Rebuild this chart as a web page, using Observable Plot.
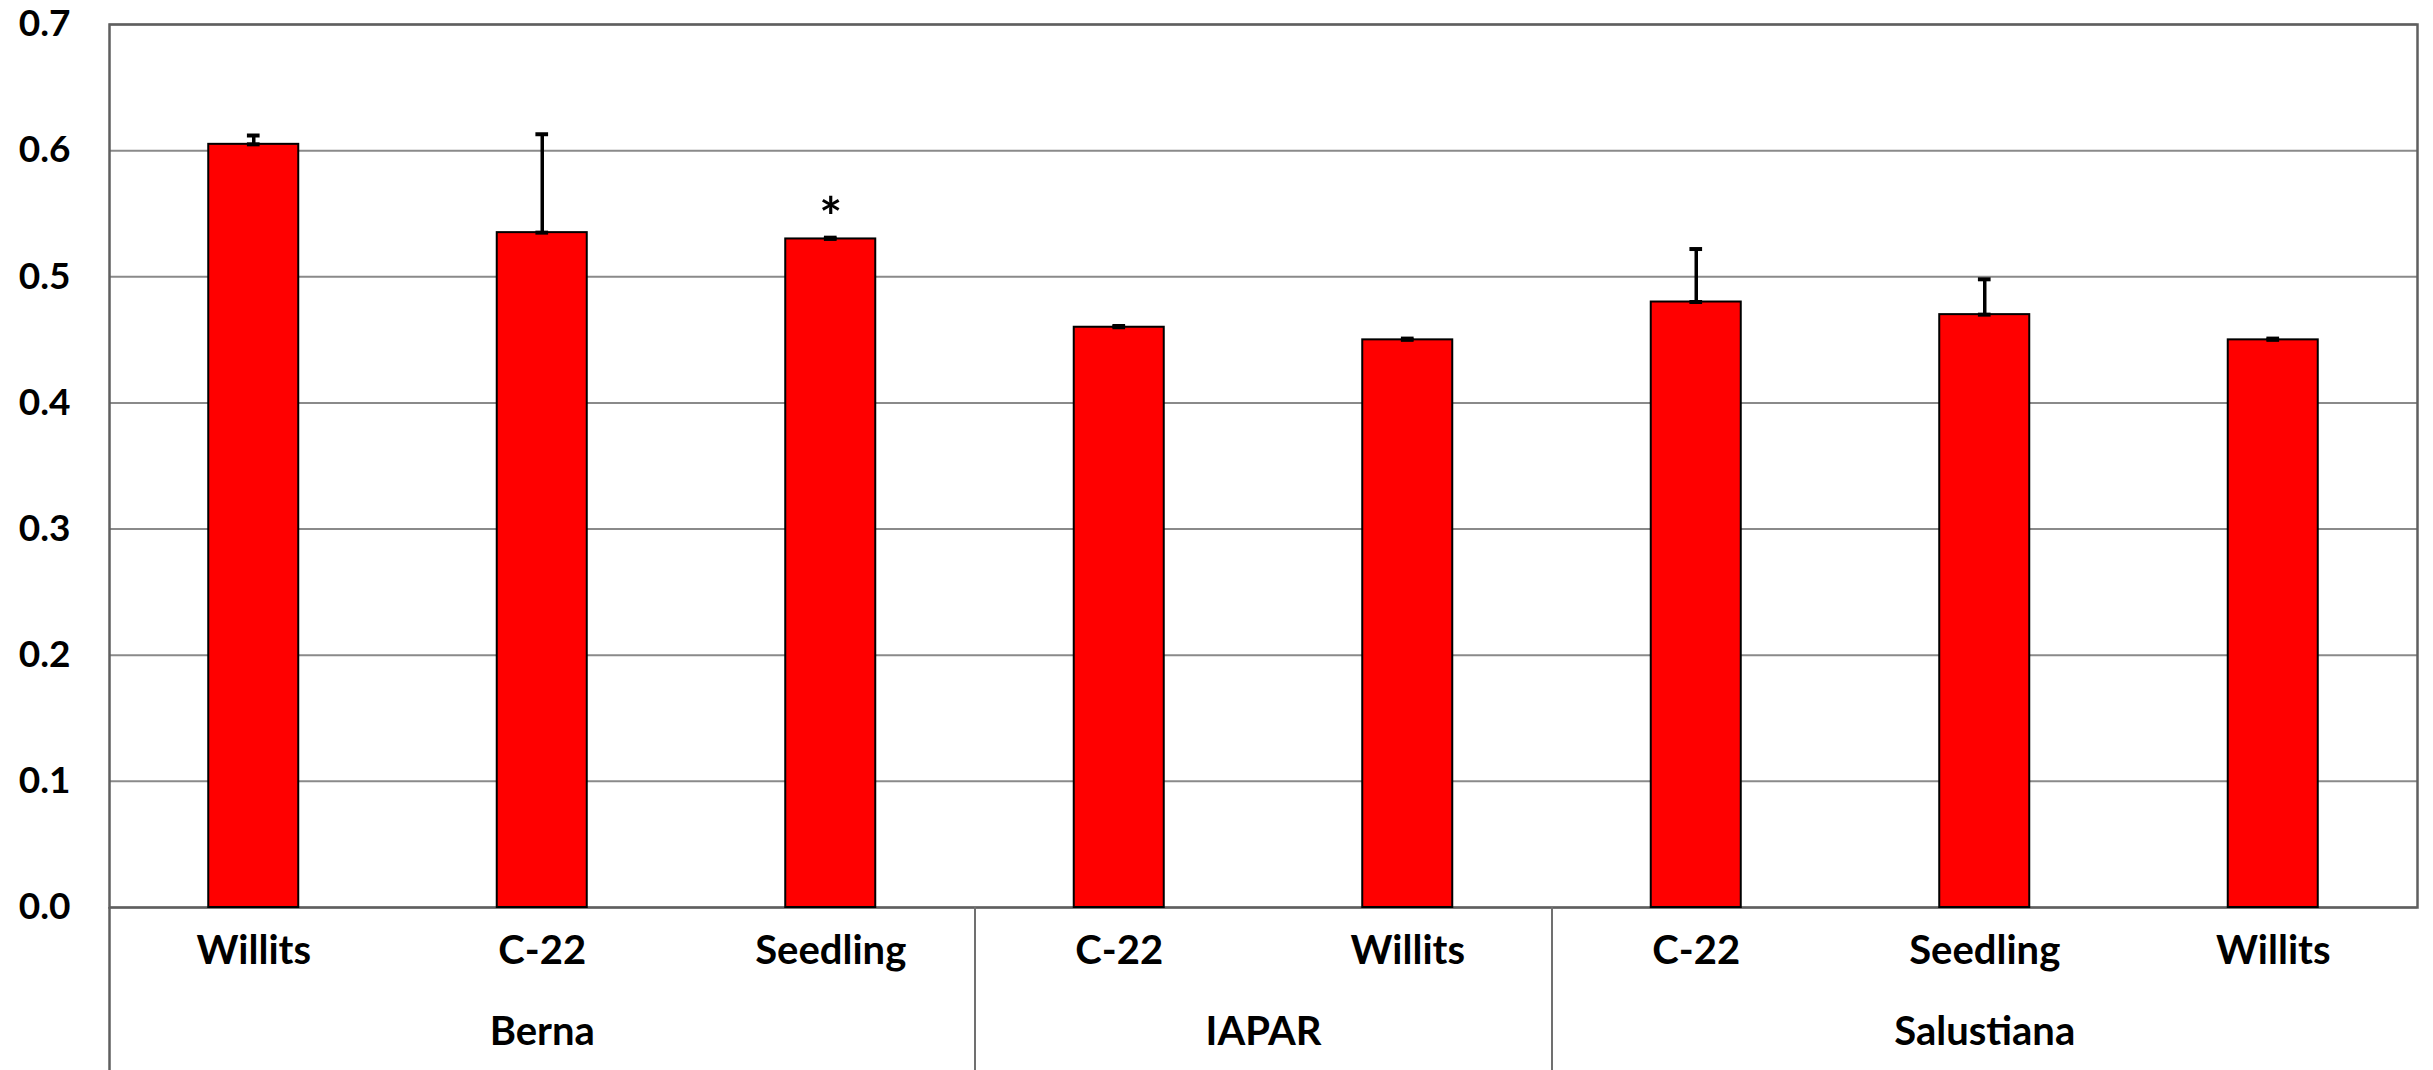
<!DOCTYPE html>
<html>
<head>
<meta charset="utf-8">
<script src="https://cdn.jsdelivr.net/npm/d3@7"></script>
<script src="https://cdn.jsdelivr.net/npm/@observablehq/plot@0.6"></script>
<style>
  html, body { margin: 0; padding: 0; background: #ffffff; }
  #chart svg { display: block; }
  #chart svg text { font-family: Lato, "Open Sans", sans-serif; font-weight: bold; fill: #000; }
</style>
</head>
<body>
<div id="chart"></div>
<script>
// ---- data ----
const groups    = ["Berna", "Berna", "Berna", "IAPAR", "IAPAR", "Salustiana", "Salustiana", "Salustiana"];
const cultivars = ["Willits", "C-22", "Seedling", "C-22", "Willits", "C-22", "Seedling", "Willits"];
const values    = [0.605, 0.535, 0.530, 0.460, 0.450, 0.480, 0.470, 0.450];
const errors    = [0.007, 0.078, 0.001, 0.001, 0.001, 0.042, 0.028, 0.001];
const flags     = ["", "", "*", "", "", "", "", ""];
const yTicks    = [0, 0.1, 0.2, 0.3, 0.4, 0.5, 0.6, 0.7];

// ---- layout ----
const W = 2433, H = 1070, MT = 24, MB = 163, ML = 109, MR = 16;
const yMax = 0.7;
const yBottom = -MB * yMax / (H - MT - MB);   // data value at the page bottom
const halfBar = 0.156, halfCap = 0.022;

const rows = values.map((v, i) => ({
  i, pos: i + 0.5, group: groups[i], cultivar: cultivars[i],
  value: v, err: errors[i], flag: flags[i]
}));

// group spans
const groupRows = d3.groups(rows, d => d.group).map(([g, rs]) => ({
  group: g,
  center: d3.mean(rs, r => r.pos),
  start: d3.min(rs, r => r.i),
  end: d3.max(rs, r => r.i) + 1
}));
const separators = groupRows.slice(1).map(g => g.start);

const chart = Plot.plot({
  width: W, height: H,
  marginTop: MT, marginBottom: MB, marginLeft: ML, marginRight: MR,
  x: {type: "linear", domain: [0, values.length], axis: null},
  y: {domain: [0, yMax], axis: null},
  marks: [
    Plot.ruleY(yTicks, {y: d => d, stroke: "#8a8a8a", strokeWidth: 2}),
    Plot.frame({stroke: "#5f5f5f", strokeWidth: 2.5}),
    Plot.axisY(yTicks, {tickFormat: d3.format(".1f"), tickSize: 0, tickPadding: 39, fontSize: 37, anchor: "left", label: null}),
    Plot.rectY(rows, {x1: d => d.pos - halfBar, x2: d => d.pos + halfBar, y1: 0, y2: "value",
      fill: "#ff0000", stroke: "#000", strokeWidth: 2}),
    // error bars
    Plot.ruleX(rows, {x: "pos", y1: "value", y2: d => d.value + d.err, stroke: "#000", strokeWidth: 3.5}),
    Plot.ruleY(rows, {y: d => d.value + d.err, x1: d => d.pos - halfCap, x2: d => d.pos + halfCap, stroke: "#000", strokeWidth: 4}),
    Plot.ruleY(rows, {y: "value", x1: d => d.pos - halfCap, x2: d => d.pos + halfCap, stroke: "#000", strokeWidth: 4}),
    // significance marker
    Plot.text(rows.filter(d => d.flag), {x: "pos", y: d => d.value + d.err, text: "flag", fontSize: 54, dy: -19}),
    // left axis line extending below
    Plot.ruleX([0], {x: d => d, y1: 0, y2: yBottom, stroke: "#5f5f5f", strokeWidth: 2.5, clip: false}),
    // group separators below the axis
    Plot.ruleX(separators, {x: d => d, y1: 0, y2: yBottom, stroke: "#707070", strokeWidth: 2, clip: false}),
    // category labels
    Plot.text(rows, {x: "pos", text: "cultivar", frameAnchor: "bottom", dy: 56, fontSize: 40}),
    // group labels
    Plot.text(groupRows, {x: "center", text: "group", frameAnchor: "bottom", dy: 137, fontSize: 40})
  ]
});
document.getElementById("chart").appendChild(chart);
</script>
</body>
</html>
